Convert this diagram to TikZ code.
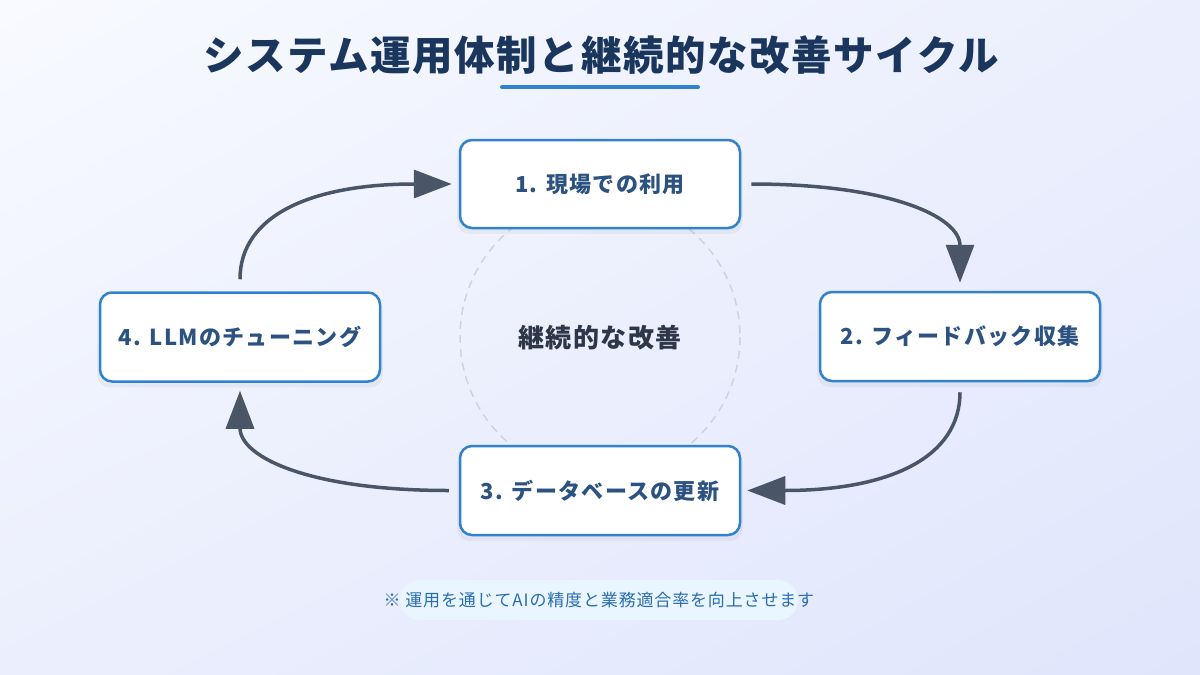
\documentclass[tikz,border=0pt]{standalone}
\usepackage{fontspec}
\setmainfont{Noto Sans CJK JP}
\usetikzlibrary{arrows.meta,calc,shadows,shadings}
\definecolor{bgA}{HTML}{F8FAFF}
\definecolor{bgB}{HTML}{EBEFFD}
\definecolor{bgC}{HTML}{E0E5FC}
\definecolor{titlec}{HTML}{1A365D}
\definecolor{accent}{HTML}{3182CE}
\definecolor{boxtext}{HTML}{2C5282}
\definecolor{arrowc}{HTML}{4A5568}
\definecolor{centerc}{HTML}{2D3748}
\definecolor{circc}{HTML}{CBD5E0}
\definecolor{notec}{HTML}{2B6CB0}
\definecolor{pillc}{HTML}{EAF6FF}
\tikzset{
  stepbox/.style={draw=accent, line width=2.5pt, fill=white, rounded corners=12pt,
    minimum width=280pt, minimum height=88pt, inner sep=0pt, text=boxtext,
    font=\fontsize{22}{26}\selectfont\bfseries\addfontfeatures{LetterSpace=6},
    general shadow={fill=black, opacity=0.04, shadow xshift=0pt, shadow yshift=-5pt, shadow scale=1.02}},
  flow/.style={draw=arrowc, line width=3.5pt, -{Triangle[length=38pt,width=28pt]}}
}
\begin{document}
\begin{tikzpicture}[x=1pt,y=-1pt]
\useasboundingbox (0,0) rectangle (1200,675);
\shade[upper left=bgA, upper right=bgB, lower left=bgB, lower right=bgC] (0,0) rectangle (1200,675);
% title
\node[text=titlec, font=\fontsize{40.5}{48}\selectfont\bfseries\addfontfeatures{LetterSpace=4}] (title) at (601,55) {システム運用体制と継続的な改善サイクル};
\draw[accent, line width=4pt, line cap=round] (502,87) -- (698,87);
% dashed circle
\draw[circc, line width=1.5pt, dash pattern=on 8pt off 6pt] (600,337) circle[radius=140];
\node[text=centerc, font=\fontsize{26}{30}\selectfont\bfseries\addfontfeatures{LetterSpace=6}] (center) at (600,338) {継続的な改善};
% boxes
\node[stepbox] (b1) at (600,184) {1. 現場での利用};
\node[stepbox, minimum height=89pt] (b2) at (960,336.5) {2. フィードバック収集};
\node[stepbox, minimum height=89pt] (b3) at (600,490.5) {3. データベースの更新};
\node[stepbox, minimum height=89pt] (b4) at (240,337) {4. LLMのチューニング};
% arrows
\coordinate (a1s) at ($(b1.east)+(10,0)$);
\coordinate (a1e) at ($(b2.north)+(0,-8)$);
\coordinate (a1c) at (a1e |- a1s);
\draw[flow] (a1s) .. controls ($(a1s)!2/3!(a1c)$) and ($(a1e)!2/3!(a1c)$) .. (a1e);
\coordinate (a2s) at ($(b2.south)+(0,10)$);
\coordinate (a2e) at ($(b3.east)+(6,0)$);
\coordinate (a2c) at (a2s |- a2e);
\draw[flow] (a2s) .. controls ($(a2s)!2/3!(a2c)$) and ($(a2e)!2/3!(a2c)$) .. (a2e);
\coordinate (a3s) at ($(b3.west)+(-10,0)$);
\coordinate (a3e) at ($(b4.south)+(0,8)$);
\coordinate (a3c) at (a3e |- a3s);
\draw[flow] (a3s) .. controls ($(a3s)!2/3!(a3c)$) and ($(a3e)!2/3!(a3c)$) .. (a3e);
\coordinate (a4s) at ($(b4.north)+(0,-12)$);
\coordinate (a4e) at ($(b1.west)+(-7,0)$);
\coordinate (a4c) at (a4s |- a4e);
\draw[flow] (a4s) .. controls ($(a4s)!2/3!(a4c)$) and ($(a4e)!2/3!(a4c)$) .. (a4e);
% note
\node[fill=pillc, rounded corners=20pt, minimum width=398pt, minimum height=40pt, inner sep=0pt] (pill) at (599,600) {};
\node[text=notec, font=\fontsize{17}{20}\selectfont\addfontfeatures{LetterSpace=5}] (note) at (599,600) {※ 運用を通じてAIの精度と業務適合率を向上させます};
\end{tikzpicture}
\end{document}
